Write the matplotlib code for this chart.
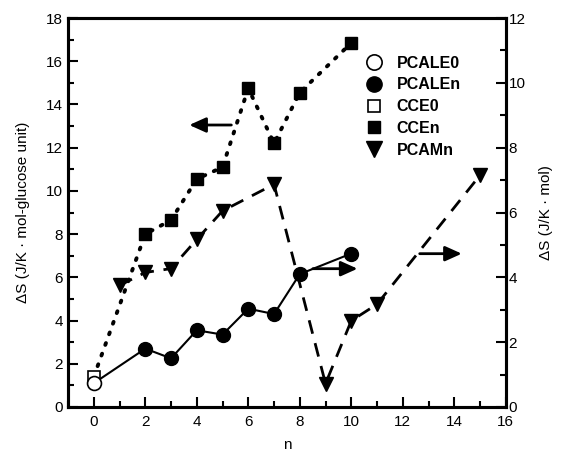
import matplotlib.pyplot as plt
from matplotlib.lines import Line2D
from matplotlib.ticker import MultipleLocator

plt.rcParams['font.family'] = ['Liberation Sans', 'DejaVu Sans']

# data
n_pcale0 = [0]
pcale0 = [1.1]

n_pcalen = [2, 3, 4, 5, 6, 7, 8, 10]
pcalen = [2.7, 2.25, 3.55, 3.35, 4.55, 4.3, 6.15, 7.1]

n_cce0 = [0]
cce0 = [1.4]

n_ccen = [2, 3, 4, 5, 6, 7, 8, 10]
ccen = [8.0, 8.65, 10.55, 11.1, 14.75, 12.2, 14.55, 16.85]

# PCAMn is on the right axis (J/K mol)
n_pcamn = [1, 2, 3, 4, 5, 7, 9, 10, 11, 15]
pcamn = [3.75, 4.15, 4.27, 5.17, 6.05, 6.87, 0.72, 2.66, 3.17, 7.15]

fig = plt.figure(figsize=(5.67, 4.63), dpi=100)
ax = fig.add_axes([0.12, 0.121, 0.772, 0.84])
ax2 = ax.twinx()

# solid line PCALE0 -> PCALEn
ax.plot(n_pcale0 + n_pcalen, pcale0 + pcalen, '-', color='k', lw=1.5, zorder=2)
ax.plot(n_pcalen, pcalen, 'o', color='k', ms=10, zorder=3)
ax.plot(n_pcale0, pcale0, 'o', mfc='white', mec='k', mew=1.2, ms=10, zorder=4)

# dotted line CCE0 -> CCEn
ax.plot(n_cce0 + n_ccen, cce0 + ccen, color='k', lw=2.8, ls=(0, (0.5, 2.4)),
        dash_capstyle='round', zorder=2)
ax.plot(n_ccen, ccen, 's', color='k', ms=8.5, zorder=3)
ax.plot(n_cce0, cce0, 's', mfc='white', mec='k', mew=1.2, ms=8, zorder=3)

# dashed PCAMn on right axis
ax2.plot(n_pcamn, pcamn, color='k', lw=2, ls=(0, (5, 3.5)), zorder=2)
ax2.plot(n_pcamn, pcamn, 'v', color='k', ms=10, zorder=3)

arrow = dict(arrowstyle='-|>,head_length=1.0,head_width=0.45', color='k', lw=2)
ax.annotate('', xy=(3.6, 13.05), xytext=(5.45, 13.05), arrowprops=arrow)
ax.annotate('', xy=(10.35, 6.4), xytext=(8.4, 6.4), arrowprops=arrow)
ax2.annotate('', xy=(14.4, 4.73), xytext=(12.55, 4.73), arrowprops=arrow)

ax.set_xlim(-1, 16)
ax.set_ylim(0, 18)
ax2.set_ylim(0, 12)

ax.xaxis.set_major_locator(MultipleLocator(2))
ax.xaxis.set_minor_locator(MultipleLocator(1))
ax.yaxis.set_major_locator(MultipleLocator(2))
ax.yaxis.set_minor_locator(MultipleLocator(1))
ax2.yaxis.set_major_locator(MultipleLocator(2))
ax2.yaxis.set_minor_locator(MultipleLocator(1))

ax.tick_params(which='both', direction='in', labelsize=11, width=1.5)
ax.tick_params(which='major', length=7)
ax.tick_params(which='minor', length=4)
ax.tick_params(axis='y', right=False)
ax.tick_params(axis='x', top=False, pad=6)
ax2.tick_params(which='both', direction='in', labelsize=11, width=1.5)
ax2.tick_params(which='major', length=7)
ax2.tick_params(which='minor', length=4)
ax2.tick_params(axis='y', pad=2)

for a in (ax, ax2):
    for s in a.spines.values():
        s.set_linewidth(2.2)

ax.set_xlabel('n', fontsize=11, labelpad=6)
ax.set_ylabel('ΔS (J/K · mol-glucose unit)', fontsize=11, labelpad=12)
ax2.set_ylabel('ΔS (J/K · mol)', fontsize=11, labelpad=10)

handles = [
    Line2D([], [], ls='none', marker='o', mfc='white', mec='k', mew=1.2, ms=11),
    Line2D([], [], ls='none', marker='o', color='k', ms=11),
    Line2D([], [], ls='none', marker='s', mfc='white', mec='k', mew=1.2, ms=9),
    Line2D([], [], ls='none', marker='s', color='k', ms=9),
    Line2D([], [], ls='none', marker='v', color='k', ms=11),
]
labels = ['PCALE0', 'PCALEn', 'CCE0', 'CCEn', 'PCAMn']
ax2.legend(handles, labels, loc='upper left', bbox_to_anchor=(0.645, 0.94),
           frameon=False, prop={'weight': 'bold', 'size': 11.5},
           handlelength=1.2, handletextpad=0.8, labelspacing=0.42)

fig.savefig('out.png', dpi=100)
